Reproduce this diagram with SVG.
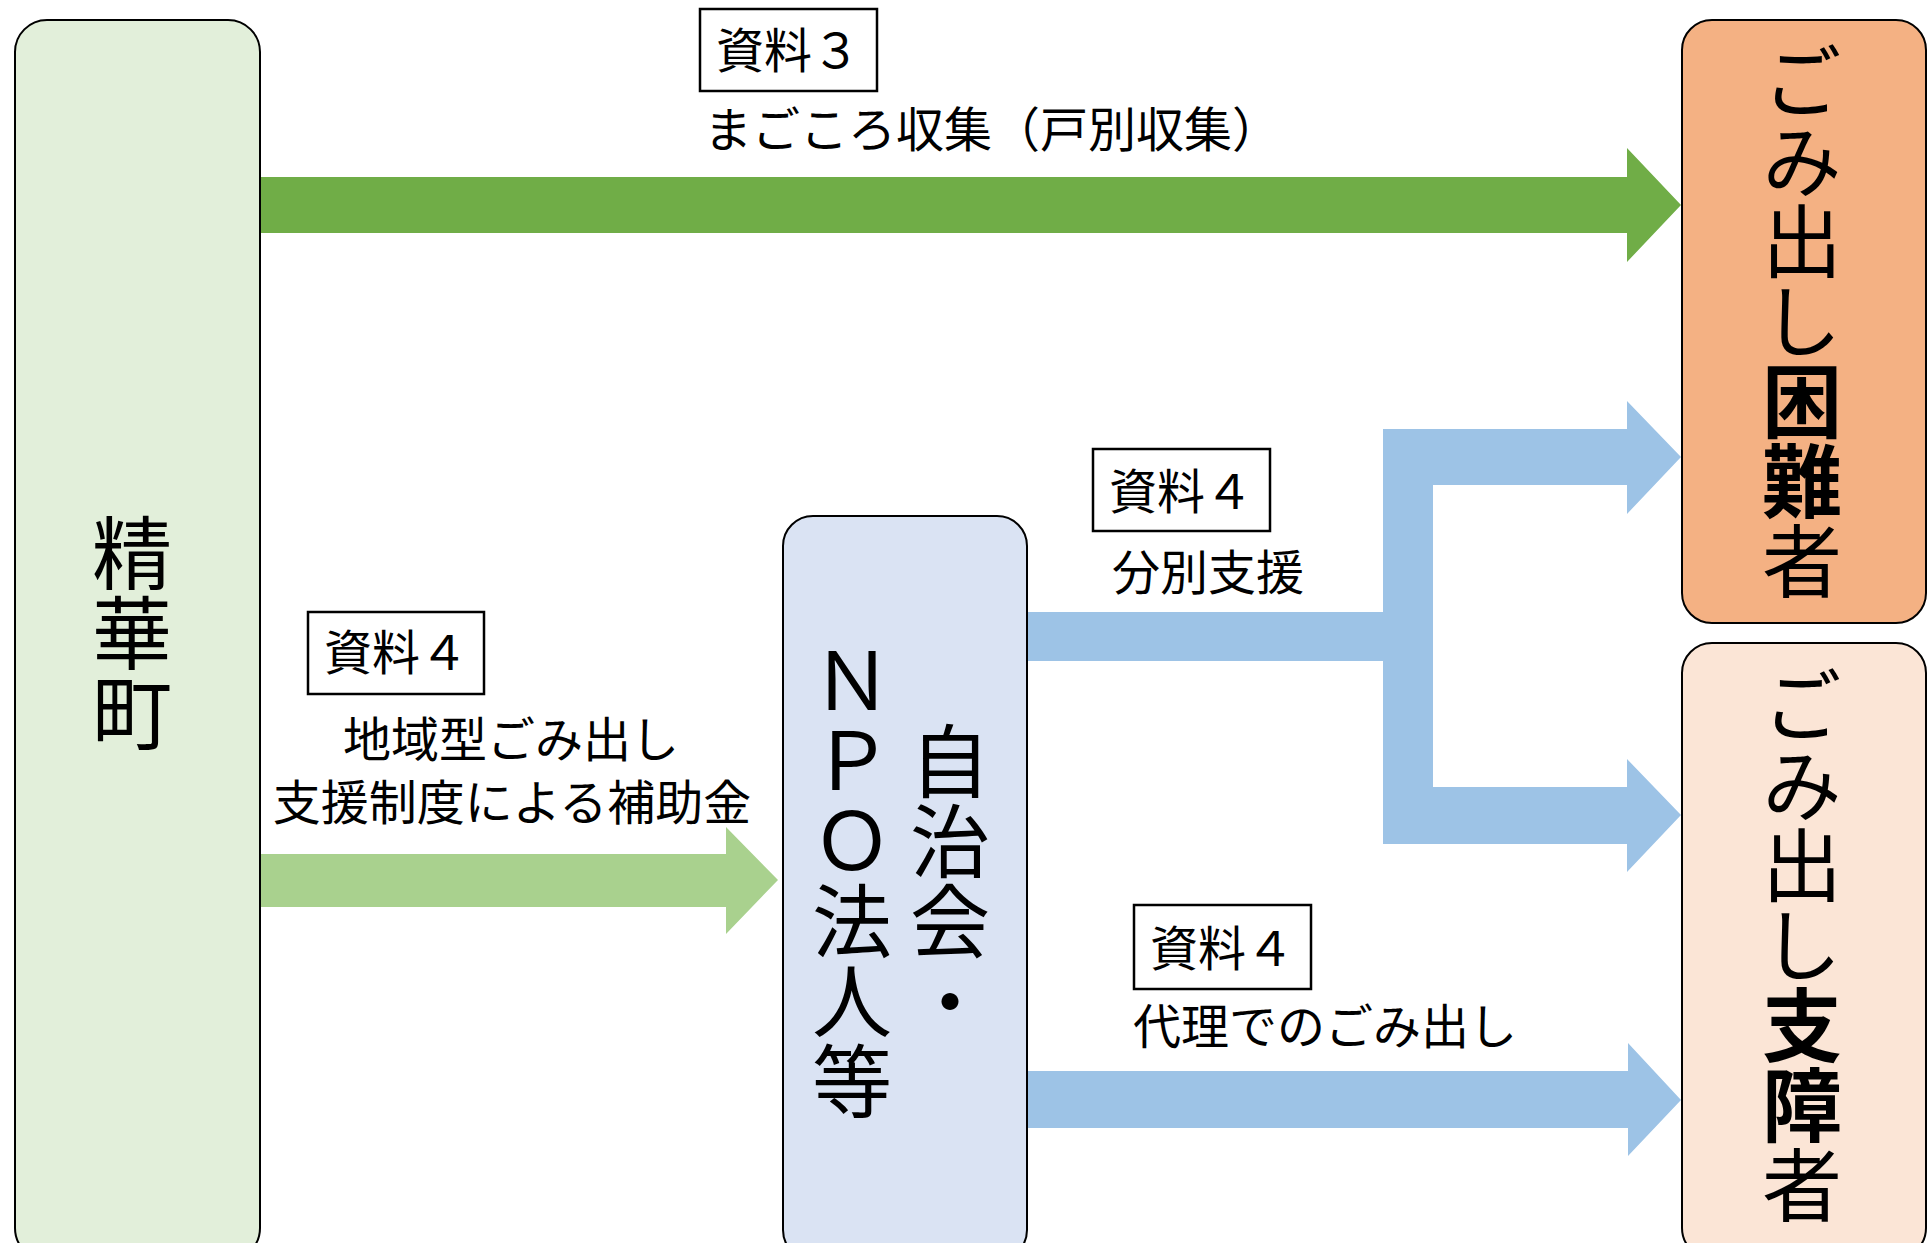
<svg xmlns="http://www.w3.org/2000/svg" width="1931" height="1243" viewBox="0 0 1931 1243">
<style>
text{font-family:"Noto Sans CJK JP","Noto Sans",sans-serif;fill:#000}
.node{stroke:#000;stroke-width:2}
.vt{writing-mode:vertical-rl;font-size:80px;text-anchor:middle}
.lbl{font-size:48px}
.mid{text-anchor:middle}
.box{fill:#fff;stroke:#000;stroke-width:2.5}
.b{font-weight:700}
</style>
<rect width="1931" height="1243" fill="#fff"/>
<g id="connectors">
<polygon points="260,177 1627,177 1627,148 1681,205 1627,262 1627,233 260,233" fill="#70AD47"/>
<polygon points="260,854 726,854 726,827 778,880 726,934 726,907 260,907" fill="#A9D18E"/>
<polygon points="1027,1071 1628,1071 1628,1043 1681,1100 1628,1156 1628,1128 1027,1128" fill="#9DC3E6"/>
<path d="M1027,612 H1383 V429 H1627 V401 L1681,457 L1627,514 V485 H1433 V787 H1627 V759 L1681,815 L1627,872 V844 H1383 V661 H1027 Z" fill="#9DC3E6"/>
</g>
<g id="node-seika">
<rect class="node" x="15" y="20" width="245" height="1240" rx="32" fill="#E2EFDA"/>
<text class="vt" x="132" y="633">精華町</text>
</g>
<g id="node-npo">
<rect class="node" x="783" y="516" width="244" height="744" rx="30" fill="#DAE3F3"/>
<text class="vt" x="950" y="881">自治会・</text>
<text class="vt" x="852" y="881">ＮＰＯ法人等</text>
</g>
<g id="node-konnan">
<rect class="node" x="1682" y="20" width="244" height="603" rx="30" fill="#F4B183"/>
<text class="vt" x="1802" y="321">ごみ出し<tspan class="b">困難</tspan>者</text>
</g>
<g id="node-shisho">
<rect class="node" x="1682" y="643" width="244" height="615" rx="30" fill="#FBE5D6"/>
<text class="vt" x="1802" y="945">ごみ出し<tspan class="b">支障</tspan>者</text>
</g>
<g id="labels">
<rect class="box" x="700" y="9" width="177" height="82"/>
<text class="lbl mid" x="788" y="68">資料３</text>
<text class="lbl" x="704" y="147">まごころ収集（戸別収集）</text>
<rect class="box" x="1093" y="449" width="177" height="82"/>
<text class="lbl mid" x="1181" y="509">資料４</text>
<text class="lbl mid" x="1208" y="590">分別支援</text>
<rect class="box" x="308" y="612" width="176" height="82"/>
<text class="lbl mid" x="396" y="670">資料４</text>
<text class="lbl mid" x="511" y="757">地域型ごみ出し<tspan x="512" dy="63">支援制度による補助金</tspan></text>
<rect class="box" x="1134" y="905" width="177" height="84"/>
<text class="lbl mid" x="1222" y="966">資料４</text>
<text class="lbl mid" x="1325" y="1044">代理でのごみ出し</text>
</g>
</svg>
